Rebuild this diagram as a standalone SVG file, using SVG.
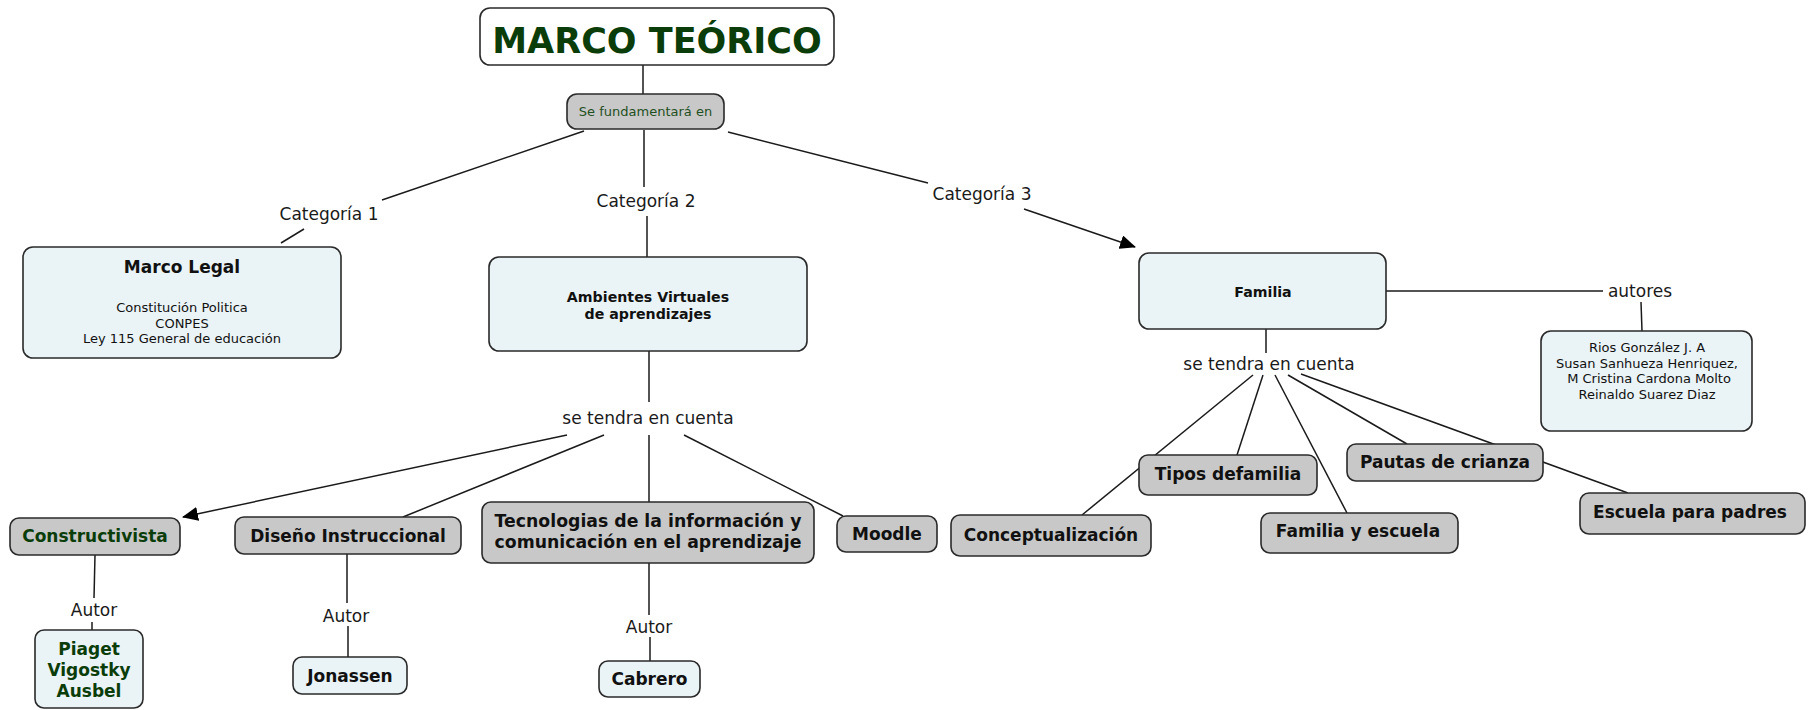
<svg xmlns="http://www.w3.org/2000/svg" width="1811" height="710" viewBox="0 0 1811 710">
<style>
text{font-family:"DejaVu Sans","Verdana",sans-serif;text-anchor:middle;fill:#111}
.box{stroke:#2a2a2a;stroke-width:1.6}
.lt{fill:#eaf3f5}
.gr{fill:#c8c8c8}
.wh{fill:#ffffff}
.b{font-weight:bold;font-size:17px}
.lbl{font-size:17px;fill:#1a1a1a}
.sm{font-size:13px}
.mb{font-size:14.2px;font-weight:bold}
.grn{fill:#0b3d0b}
.cn line{stroke:#1a1a1a;stroke-width:1.5}
</style>
<defs>
<marker id="ar" markerUnits="userSpaceOnUse" markerWidth="16" markerHeight="14" refX="15" refY="7" orient="auto">
<path d="M0,0 L16,7 L0,14 z" fill="#000"/>
</marker>
</defs>
<rect width="1811" height="710" fill="#fff"/>
<g id="connectors" class="cn">
<line x1="643" y1="65" x2="643" y2="94"/>
<line x1="584" y1="131" x2="382" y2="200"/>
<line x1="304" y1="229" x2="281" y2="243"/>
<line x1="644" y1="130" x2="644" y2="187"/>
<line x1="647" y1="216" x2="647" y2="257"/>
<line x1="728" y1="132" x2="928" y2="183"/>
<line x1="1024" y1="209" x2="1135" y2="247" marker-end="url(#ar)"/>
<line x1="649" y1="351" x2="649" y2="402"/>
<line x1="567" y1="435" x2="183" y2="517" marker-end="url(#ar)"/>
<line x1="604" y1="435" x2="403" y2="517"/>
<line x1="649" y1="435" x2="649" y2="502"/>
<line x1="684" y1="435" x2="843" y2="516"/>
<line x1="95" y1="555" x2="94" y2="598"/>
<line x1="92" y1="622" x2="92" y2="630"/>
<line x1="347" y1="554" x2="347" y2="603"/>
<line x1="348" y1="626" x2="348" y2="657"/>
<line x1="649" y1="563" x2="649" y2="615"/>
<line x1="650" y1="637" x2="650" y2="661"/>
<line x1="1386" y1="291" x2="1603" y2="291"/>
<line x1="1641" y1="302" x2="1642" y2="331"/>
<line x1="1266" y1="329" x2="1266" y2="353"/>
<line x1="1253" y1="375" x2="1082" y2="515"/>
<line x1="1263" y1="375" x2="1237" y2="455"/>
<line x1="1275" y1="375" x2="1347" y2="513"/>
<line x1="1288" y1="375" x2="1407" y2="444"/>
<line x1="1301" y1="374" x2="1628" y2="493"/>
<text class="lbl" x="329" y="220">Categoría 1</text>
<text class="lbl" x="646" y="207">Categoría 2</text>
<text class="lbl" x="982" y="200">Categoría 3</text>
<text class="lbl" x="648" y="424">se tendra en cuenta</text>
<text class="lbl" x="94" y="616">Autor</text>
<text class="lbl" x="346" y="622">Autor</text>
<text class="lbl" x="649" y="633">Autor</text>
<text class="lbl" x="1640" y="297">autores</text>
<text class="lbl" x="1269" y="370">se tendra en cuenta</text>
</g>
<g id="n-title">
<rect class="box wh" x="480" y="8" width="354" height="57" rx="10"/>
<text class="grn" x="657" y="53" style="font-size:35px;font-weight:bold">MARCO TEÓRICO</text>
</g>
<g id="n-fund">
<rect class="box gr" x="567" y="94" width="157" height="35" rx="10"/>
<text class="sm" x="645.5" y="116" style="fill:#1f4f1f">Se fundamentará en</text>
</g>
<g id="n-legal">
<rect class="box lt" x="23" y="247" width="318" height="111" rx="10"/>
<text class="b" x="182" y="273">Marco Legal</text>
<text class="sm" x="182" y="312">Constitución Politica</text>
<text class="sm" x="182" y="327.5">CONPES</text>
<text class="sm" x="182" y="343">Ley 115 General de educación</text>
</g>
<g id="n-ava">
<rect class="box lt" x="489" y="257" width="318" height="94" rx="10"/>
<text class="mb" x="648" y="302">Ambientes Virtuales</text>
<text class="mb" x="648" y="318.5">de aprendizajes</text>
</g>
<g id="n-familia">
<rect class="box lt" x="1139" y="253" width="247" height="76" rx="10"/>
<text class="mb" x="1263" y="297">Familia</text>
</g>
<g id="n-autores">
<rect class="box lt" x="1541" y="331" width="211" height="100" rx="10"/>
<text class="sm" x="1647" y="352">Rios González J. A</text>
<text class="sm" x="1647" y="367.5">Susan Sanhueza Henriquez,</text>
<text class="sm" x="1649" y="383">M Cristina Cardona Molto</text>
<text class="sm" x="1647" y="399">Reinaldo Suarez Diaz</text>
</g>
<g id="n-constructivista">
<rect class="box gr" x="10" y="518" width="170" height="37" rx="9"/>
<text class="b grn" x="95" y="542">Constructivista</text>
</g>
<g id="n-diseno">
<rect class="box gr" x="235" y="517" width="226" height="37" rx="9"/>
<text class="b" x="348" y="542">Diseño Instruccional</text>
</g>
<g id="n-tic">
<rect class="box gr" x="482" y="502" width="332" height="61" rx="9"/>
<text class="b" x="648" y="527" style="font-size:17.3px">Tecnologias de la información y</text>
<text class="b" x="648" y="548" style="font-size:17.3px">comunicación en el aprendizaje</text>
</g>
<g id="n-moodle">
<rect class="box gr" x="837" y="516" width="100" height="36" rx="9"/>
<text class="b" x="887" y="540">Moodle</text>
</g>
<g id="n-piaget">
<rect class="box lt" x="35" y="630" width="108" height="78" rx="9"/>
<text class="b grn" x="89" y="655">Piaget</text>
<text class="b grn" x="89" y="676">Vigostky</text>
<text class="b grn" x="89" y="697">Ausbel</text>
</g>
<g id="n-jonassen">
<rect class="box lt" x="293" y="657" width="114" height="37" rx="9"/>
<text class="b" x="350" y="682">Jonassen</text>
</g>
<g id="n-cabrero">
<rect class="box lt" x="599" y="661" width="101" height="36" rx="9"/>
<text class="b" x="649.5" y="685">Cabrero</text>
</g>
<g id="n-tipos">
<rect class="box gr" x="1139" y="455" width="178" height="40" rx="9"/>
<text class="b" x="1228" y="480">Tipos defamilia</text>
</g>
<g id="n-pautas">
<rect class="box gr" x="1347" y="444" width="196" height="37" rx="9"/>
<text class="b" x="1445" y="468">Pautas de crianza</text>
</g>
<g id="n-concept">
<rect class="box gr" x="951" y="515" width="200" height="41" rx="9"/>
<text class="b" x="1051" y="541">Conceptualización</text>
</g>
<g id="n-famesc">
<rect class="box gr" x="1261" y="513" width="197" height="40" rx="9"/>
<text class="b" x="1358" y="537">Familia y escuela</text>
</g>
<g id="n-escuela">
<rect class="box gr" x="1580" y="493" width="225" height="41" rx="9"/>
<text class="b" x="1690" y="518">Escuela para padres</text>
</g>
</svg>
